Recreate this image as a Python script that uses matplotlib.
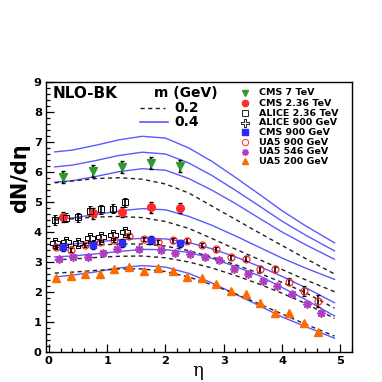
import numpy as np
import matplotlib
matplotlib.use("Agg")
import matplotlib.pyplot as plt
from matplotlib.path import Path
from matplotlib.ticker import MultipleLocator

# ---------------- data ----------------
eta_curve = [0.1, 0.4, 0.8, 1.2, 1.6, 2.0, 2.4, 2.8, 3.2, 3.6, 4.0, 4.4, 4.9]

solid_A = [6.67, 6.73, 6.89, 7.07, 7.19, 7.13, 6.80, 6.35, 5.82, 5.27, 4.71, 4.21, 3.64]
solid_B = [6.17, 6.23, 6.38, 6.55, 6.66, 6.60, 6.30, 5.88, 5.39, 4.88, 4.36, 3.90, 3.37]
solid_7000 = [5.66, 5.71, 5.85, 6.01, 6.11, 6.06, 5.78, 5.39, 4.95, 4.47, 4.00, 3.58, 3.09]
dash_7000 = [5.64, 5.70, 5.78, 5.81, 5.76, 5.60, 5.30, 4.86, 4.42, 3.98, 3.55, 3.12, 2.60]
solid_2360 = [4.43, 4.47, 4.58, 4.70, 4.78, 4.74, 4.52, 4.22, 3.87, 3.50, 3.13, 2.80, 2.42]
dash_2360 = [4.40, 4.44, 4.50, 4.52, 4.48, 4.35, 4.12, 3.78, 3.43, 3.09, 2.75, 2.41, 2.01]
solid_900 = [3.57, 3.60, 3.67, 3.74, 3.79, 3.77, 3.65, 3.44, 3.17, 2.86, 2.52, 2.15, 1.64]
dash_900 = [3.48, 3.51, 3.56, 3.60, 3.60, 3.53, 3.38, 3.16, 2.91, 2.63, 2.32, 1.98, 1.46]
solid_546 = [3.17, 3.20, 3.27, 3.35, 3.42, 3.41, 3.32, 3.12, 2.85, 2.55, 2.15, 1.75, 1.20]
dash_546 = [3.07, 3.10, 3.15, 3.19, 3.20, 3.14, 3.00, 2.80, 2.55, 2.27, 1.96, 1.62, 1.12]
solid_200 = [2.50, 2.56, 2.67, 2.80, 2.88, 2.83, 2.62, 2.30, 1.93, 1.55, 1.17, 0.85, 0.46]
dash_200 = [2.63, 2.66, 2.72, 2.77, 2.77, 2.68, 2.50, 2.24, 1.94, 1.61, 1.27, 0.93, 0.53]

eta_cms = [0.25, 0.75, 1.25, 1.75, 2.25]
cms7 = [5.82, 6.04, 6.16, 6.29, 6.21]
cms7_err = [0.2, 0.2, 0.2, 0.2, 0.2]
cms236 = [4.49, 4.62, 4.68, 4.82, 4.79]
cms236_err = [0.17, 0.17, 0.17, 0.17, 0.17]
cms900 = [3.51, 3.57, 3.64, 3.73, 3.62]
cms900_err = [0.13, 0.13, 0.13, 0.13, 0.13]

eta_alice = [0.1, 0.3, 0.5, 0.7, 0.9, 1.1, 1.3]
alice236 = [4.40, 4.48, 4.49, 4.70, 4.76, 4.78, 4.99]
alice236_err = [0.15, 0.15, 0.15, 0.15, 0.15, 0.15, 0.15]
alice900 = [3.62, 3.68, 3.64, 3.79, 3.84, 3.90, 3.99]
alice900_err = [0.1, 0.1, 0.1, 0.1, 0.1, 0.1, 0.1]

eta_ua5 = [0.125, 0.375, 0.625, 0.875, 1.125, 1.375, 1.625, 1.875, 2.125, 2.375,
           2.625, 2.875, 3.125, 3.375, 3.625, 3.875, 4.125, 4.375, 4.625]
ua5_900 = [3.49, 3.40, 3.57, 3.68, 3.73, 3.88, 3.77, 3.68, 3.73, 3.71,
           3.57, 3.42, 3.16, 3.11, 2.77, 2.76, 2.34, 2.03, 1.70]
ua5_900_err = [0.07, 0.07, 0.07, 0.07, 0.07, 0.07, 0.07, 0.07, 0.08, 0.08,
               0.08, 0.08, 0.09, 0.09, 0.1, 0.1, 0.12, 0.17, 0.2]
eta_ua5_546 = [0.17, 0.42, 0.67, 0.92, 1.17, 1.55, 1.92, 2.17, 2.42, 2.67,
               2.92, 3.17, 3.42, 3.67, 3.92, 4.17, 4.42, 4.67]
ua5_546 = [3.10, 3.16, 3.18, 3.29, 3.42, 3.43, 3.40, 3.29, 3.27, 3.18,
           3.07, 2.76, 2.60, 2.38, 2.20, 1.93, 1.59, 1.29]
ua5_200 = [2.48, 2.53, 2.59, 2.60, 2.77, 2.82, 2.71, 2.79, 2.71, 2.49,
           2.46, 2.26, 2.03, 1.92, 1.64, 1.31, 1.30, 0.97, 0.66]

legend_labels = ["CMS 7 TeV", "CMS 2.36 TeV", "ALICE 2.36 TeV", "ALICE 900 GeV",
                 "CMS 900 GeV", "UA5 900 GeV", "UA5 546 GeV", "UA5 200 GeV"]
mass_labels = ["0.2", "0.4"]

# ---------------- style ----------------
plt.rcParams['font.family'] = ['DejaVu Sans']
BLUE = '#5a5aff'
GREEN = '#2f9a2f'
RED = '#ff2a2a'
PBLUE = '#2a2aff'
PURPLE = '#b03cc0'
ORANGE = '#ff6a00'

# open cross marker (ROOT style 28)
a, b = 0.33, 1.0
cross_verts = [(-a, b), (a, b), (a, a), (b, a), (b, -a), (a, -a), (a, -b), (-a, -b),
               (-a, -a), (-b, -a), (-b, a), (-a, a), (-a, b)]
cross_marker = Path(cross_verts, closed=True)

fig = plt.figure(figsize=(3.82, 3.82), dpi=100)
ax = fig.add_axes([46/382, 1-352/382, 306/382, 270/382])

for s in [solid_A, solid_B, solid_7000, solid_2360, solid_900, solid_546, solid_200]:
    ax.plot(eta_curve, s, color=BLUE, lw=1.0, zorder=2)
for d in [dash_7000, dash_2360, dash_900, dash_546, dash_200]:
    ax.plot(eta_curve, d, color='#222222', lw=1.0, ls=(0, (3, 2.5)), zorder=2)

eb = dict(ecolor='black', elinewidth=1.2, capsize=1.5, capthick=1.0, ls='none', zorder=4)

ax.errorbar(eta_ua5, ua5_900, yerr=ua5_900_err, marker='o', ms=5, mfc='none',
            mec=RED, mew=0.9, **eb)
ax.errorbar(eta_cms, cms7, yerr=cms7_err, marker='v', ms=6, mfc=GREEN, mec=GREEN, **eb)
ax.errorbar(eta_cms, cms236, yerr=cms236_err, marker='o', ms=5.5, mfc=RED, mec=RED, **eb)
ax.errorbar(eta_alice, alice236, yerr=alice236_err, marker='s', ms=5, mfc='none',
            mec='black', mew=0.7, **eb)
ax.errorbar(eta_alice, alice900, yerr=alice900_err, marker=cross_marker, ms=7, mfc='none',
            mec='black', mew=0.7, **eb)
ax.errorbar(eta_cms, cms900, yerr=cms900_err, marker='s', ms=5, mfc=PBLUE, mec=PBLUE, **eb)
ax.plot(eta_ua5_546, ua5_546, ls='none', marker=(8, 2, 0), ms=6, mec=PURPLE, mew=1.2, zorder=5)
ax.plot(eta_ua5, ua5_200, ls='none', marker='^', ms=6, mfc=ORANGE, mec=ORANGE, zorder=5)

ax.set_xlim(-0.05, 5.2)
ax.set_ylim(0, 9)
ax.xaxis.set_major_locator(MultipleLocator(1))
ax.xaxis.set_minor_locator(MultipleLocator(0.2))
ax.yaxis.set_major_locator(MultipleLocator(1))
ax.yaxis.set_minor_locator(MultipleLocator(0.2))
ax.tick_params(which='both', direction='in', top=False, right=False, width=0.9)
ax.tick_params(which='major', length=6, labelsize=8.2, pad=3)
ax.tick_params(which='minor', length=3)
for lab in ax.get_xticklabels() + ax.get_yticklabels():
    lab.set_fontweight('bold')
for sp in ax.spines.values():
    sp.set_linewidth(1.0)

fig.text(20/382, 1-178/382, "dN/dη", rotation=90, fontsize=15, fontweight='bold',
         ha='center', va='center')
fig.text(198/382, 1-371/382, "η", fontsize=13, family='DejaVu Serif',
         ha='center', va='center')

# annotation texts
ax.text(0.023, 0.959, "NLO-BK", transform=ax.transAxes, fontsize=11, fontweight='bold',
        va='center', ha='left')
ax.text(0.353, 0.959, "m (GeV)", transform=ax.transAxes, fontsize=10, fontweight='bold',
        va='center', ha='left')
ax.plot([0.307, 0.389], [0.904, 0.904], transform=ax.transAxes, color='#222222', lw=1.0,
        ls=(0, (3, 2.5)))
ax.plot([0.307, 0.398], [0.853, 0.853], transform=ax.transAxes, color=BLUE, lw=1.2)
ax.text(0.418, 0.902, mass_labels[0], transform=ax.transAxes, fontsize=10, fontweight='bold',
        va='center', ha='left')
ax.text(0.418, 0.853, mass_labels[1], transform=ax.transAxes, fontsize=10, fontweight='bold',
        va='center', ha='left')

leg_styles = [
    dict(marker='v', ms=4.5, mfc=GREEN, mec=GREEN),
    dict(marker='o', ms=4.5, mfc=RED, mec=RED),
    dict(marker='s', ms=4, mfc='none', mec='black', mew=0.6),
    dict(marker=cross_marker, ms=5.5, mfc='none', mec='black', mew=0.6),
    dict(marker='s', ms=4, mfc=PBLUE, mec=PBLUE),
    dict(marker='o', ms=4.5, mfc='none', mec=RED, mew=0.7),
    dict(marker=(8, 2, 0), ms=5, mec=PURPLE, mew=1.0),
    dict(marker='^', ms=4.5, mfc=ORANGE, mec=ORANGE),
]
leg_y = [0.960, 0.921, 0.884, 0.849, 0.814, 0.777, 0.742, 0.706]
for lab, st, yy in zip(legend_labels, leg_styles, leg_y):
    ax.plot([0.650], [yy], transform=ax.transAxes, ls='none', clip_on=False, **st)
    ax.text(0.696, yy, lab, transform=ax.transAxes, fontsize=6.8, fontweight='bold',
            va='center', ha='left')

fig.savefig("out.png", dpi=100)
